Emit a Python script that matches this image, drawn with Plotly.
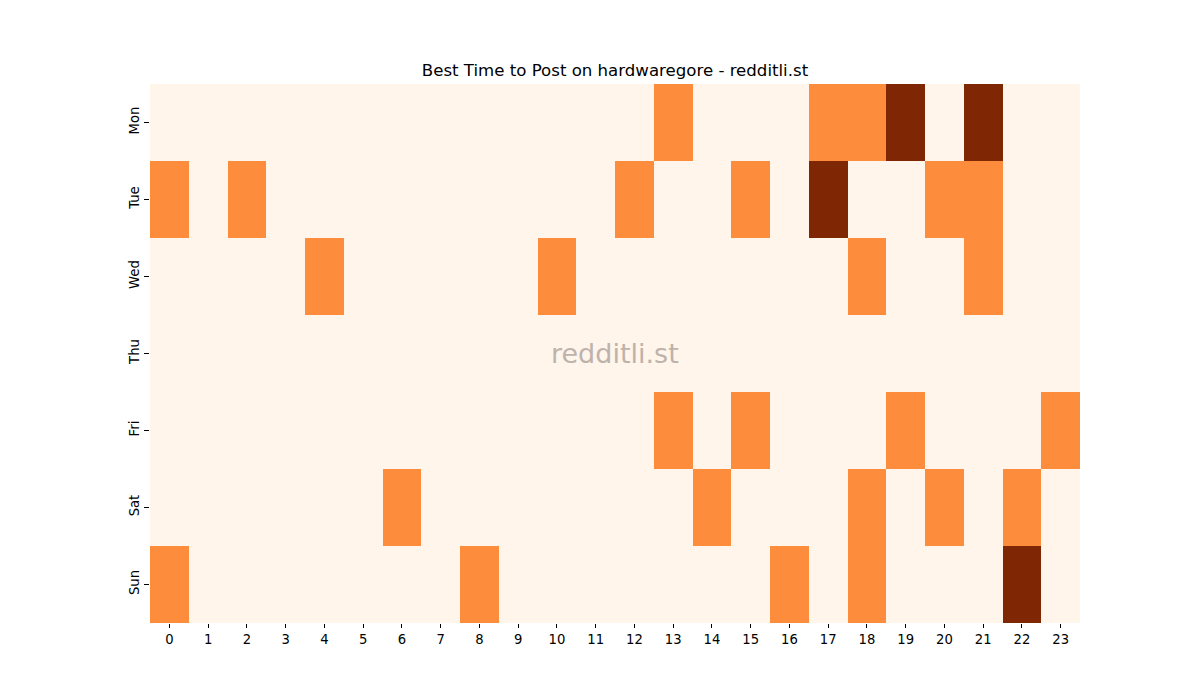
import plotly.graph_objects as go

days = ["Mon", "Tue", "Wed", "Thu", "Fri", "Sat", "Sun"]
hours = list(range(24))

# 0 = low, 1 = good, 2 = best
mon = [0]*13 + [1, 0, 0, 0, 1, 1, 2, 0, 2, 0, 0]
tue = [1, 0, 1, 0, 0, 0, 0, 0, 0, 0, 0, 0, 1, 0, 0, 1, 0, 2, 0, 0, 1, 1, 0, 0]
wed = [0, 0, 0, 0, 1, 0, 0, 0, 0, 0, 1, 0, 0, 0, 0, 0, 0, 0, 1, 0, 0, 1, 0, 0]
thu = [0]*24
fri = [0]*13 + [1, 0, 1, 0, 0, 0, 1, 0, 0, 0, 1]
sat = [0, 0, 0, 0, 0, 0, 1, 0, 0, 0, 0, 0, 0, 0, 1, 0, 0, 0, 1, 0, 1, 0, 1, 0]
sun = [1, 0, 0, 0, 0, 0, 0, 0, 1, 0, 0, 0, 0, 0, 0, 0, 1, 0, 1, 0, 0, 0, 2, 0]

z = [mon, tue, wed, thu, fri, sat, sun]

fig = go.Figure(go.Heatmap(
    z=z, x=hours, y=days,
    zmin=0, zmax=2,
    colorscale=[[0, "#fff5eb"], [0.5, "#fd8d3c"], [1, "#7f2704"]],
    showscale=False, xgap=0, ygap=0,
))

font = "DejaVu Sans"
fig.update_layout(
    width=1200, height=700,
    margin=dict(l=150, r=120, t=84, b=77),
    paper_bgcolor="white", plot_bgcolor="white",
    font=dict(family=font, size=13, color="black"),
    title=dict(text="Best Time to Post on hardwaregore - redditli.st",
               x=615/1200, xanchor="center", y=1-70/700, yanchor="middle",
               font=dict(family=font, size=16.6, color="black")),
    xaxis=dict(tickmode="array", tickvals=hours, ticktext=[str(h) for h in hours],
               ticks="outside", ticklen=4, tickcolor="black", showgrid=False,
               zeroline=False, showline=False, range=[-0.5, 23.5],
               tickfont=dict(size=13.2)),
    yaxis=dict(tickmode="array", tickvals=days, ticktext=days, autorange="reversed",
               ticks="outside", ticklen=5, tickcolor="black", showgrid=False,
               zeroline=False, showline=False, tickangle=-90,
               tickfont=dict(size=13.2)),
    annotations=[dict(text="redditli.st", x=0.5, y=0.5, xref="paper", yref="paper",
                      showarrow=False, font=dict(family=font, size=27, color="#bdb3ac"))],
)

fig.write_html("out.html")
